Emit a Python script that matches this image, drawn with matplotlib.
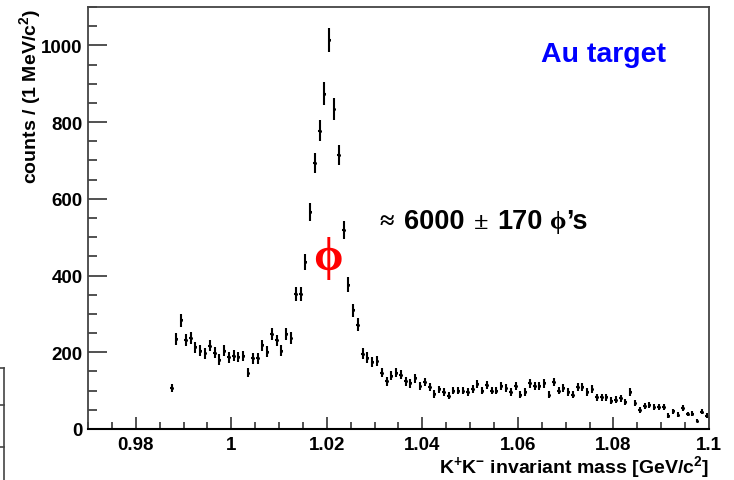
import numpy as np
import matplotlib
matplotlib.use("Agg")
import matplotlib.pyplot as plt
from matplotlib.lines import Line2D
from matplotlib.ticker import MultipleLocator, FixedLocator

# ---- data (bin centres in GeV/c^2, counts per 1 MeV bin) ----
bin_first = 0.9875
bin_width = 0.001
counts = [
    106, 235, 283, 232, 238, 213, 204, 197, 217, 199, 181, 204, 187, 191, 188, 190,
    147, 184, 184, 218, 202, 248, 231, 204, 248, 237,
    352, 352, 436, 566, 694, 778, 874, 1014, 835, 714, 519, 376, 309, 272, 196, 186,
    174, 178,
    147, 124, 139, 147, 141, 124, 119, 132, 113, 122, 109, 91, 103, 96, 87, 100, 100,
    100, 97,
    104, 117, 100, 115, 100, 100, 111, 106, 96, 111, 89, 96, 119, 113, 113, 119, 89,
    122, 100, 106, 96, 89, 109, 109, 97, 104, 83,
    83, 83, 74, 76, 80, 71, 96, 67, 50, 61, 63, 57, 57, 57, 35, 46, 37, 55, 39, 40,
    22, 45, 35,
]
mass = bin_first + bin_width * np.arange(len(counts))
errors = np.sqrt(np.array(counts, dtype=float))

xticks = [0.98, 1.0, 1.02, 1.04, 1.06, 1.08, 1.1]
xticklabels = ["0.98", "1", "1.02", "1.04", "1.06", "1.08", "1.1"]
yticks = [0, 200, 400, 600, 800, 1000]

# ---- style ----
plt.rcParams["font.family"] = ["Liberation Sans", "DejaVu Sans"]
plt.rcParams["font.weight"] = "bold"
plt.rcParams["mathtext.fontset"] = "custom"
plt.rcParams["mathtext.rm"] = "Liberation Sans:bold"
plt.rcParams["mathtext.it"] = "Liberation Sans:bold"
plt.rcParams["mathtext.bf"] = "Liberation Sans:bold"
plt.rcParams["mathtext.default"] = "rm"

W, H = 734, 481
fig = plt.figure(figsize=(W / 100, H / 100), dpi=100)
ax = fig.add_axes([88 / W, 1 - 430 / H, (709 - 88) / W, (430 - 8) / H])

ax.errorbar(mass, counts, yerr=errors, xerr=0.0003, fmt="o", ms=2.2,
            color="black", ecolor="black", elinewidth=1.5, capsize=0,
            markeredgewidth=0)

ax.set_xlim(0.97, 1.1)
ax.set_ylim(0, 1100)
ax.xaxis.set_major_locator(FixedLocator(xticks))
ax.set_xticklabels(xticklabels)
ax.xaxis.set_minor_locator(MultipleLocator(0.005))
ax.set_yticks(yticks)
ax.set_yticklabels([str(v) for v in yticks])
ax.yaxis.set_minor_locator(MultipleLocator(50))

ax.tick_params(axis="y", which="major", direction="in", length=13.5, width=1.2,
               labelsize=13.5, pad=4, color="#333333")
ax.tick_params(axis="y", which="minor", direction="in", length=6.5, width=1.2,
               color="#333333")
ax.tick_params(axis="x", which="major", direction="in", length=8.6, width=1.2,
               labelsize=13.5, pad=5, color="#333333")
ax.tick_params(axis="x", which="minor", direction="in", length=5, width=1.2,
               color="#333333")
for lab in ax.get_xticklabels() + ax.get_yticklabels():
    lab.set_fontweight("bold")

for s in ["top", "right", "left"]:
    ax.spines[s].set_color("#444444")
    ax.spines[s].set_linewidth(1.3)
ax.spines["bottom"].set_color("black")
ax.spines["bottom"].set_linewidth(1.5)

# ---- labels ----
fig.text(709 / W, 1 - 467 / H, r"K$^{+}$K$^{-}$ invariant mass [GeV/c$^{2}$]",
         ha="right", va="center", fontsize=14, fontweight="bold")
fig.text(30 / W, 1 - 9 / H, r"counts / (1 MeV/c$^{2}$)", rotation=90,
         ha="center", va="top", fontsize=14, fontweight="bold")

# ---- annotations ----
fig.text(541 / W, 1 - 62 / H, "Au target", color="#0000ff", fontsize=20.5,
         fontweight="bold", ha="left", va="baseline")

base = 1 - 229 / H
serif = ["Liberation Serif", "DejaVu Serif"]
fig.text(379 / W, base, "\u2248", fontsize=19, family=serif, ha="left", va="baseline")
fig.text(404 / W, base, "6000", fontsize=19.5, fontweight="bold", ha="left", va="baseline")
fig.text(474 / W, base, "\u00b1", fontsize=19, family=serif, ha="left", va="baseline")
fig.text(497 / W, base, "170", fontsize=19.5, fontweight="bold", ha="left", va="baseline")
fig.text(550 / W, base, "\u03d5", fontsize=19, family=serif, ha="left", va="baseline")
fig.text(566 / W, base, "\u2019s", fontsize=19.5, fontweight="bold", ha="left", va="baseline")

fig.text(328 / W, 1 - 258 / H, "\u03d5", color="#ff0000", fontsize=34,
         family=serif, fontweight="bold", ha="center", va="center")

# ---- fragment of neighbouring frame at bottom-left ----
for yy in [369, 406, 448]:
    fig.add_artist(Line2D([0, 4 / W], [1 - yy / H, 1 - yy / H], color="#444444", lw=1.2))
fig.add_artist(Line2D([4 / W, 4 / W], [0, 1 - 369 / H], color="#444444", lw=1.2))

fig.savefig("out.png", dpi=100)
